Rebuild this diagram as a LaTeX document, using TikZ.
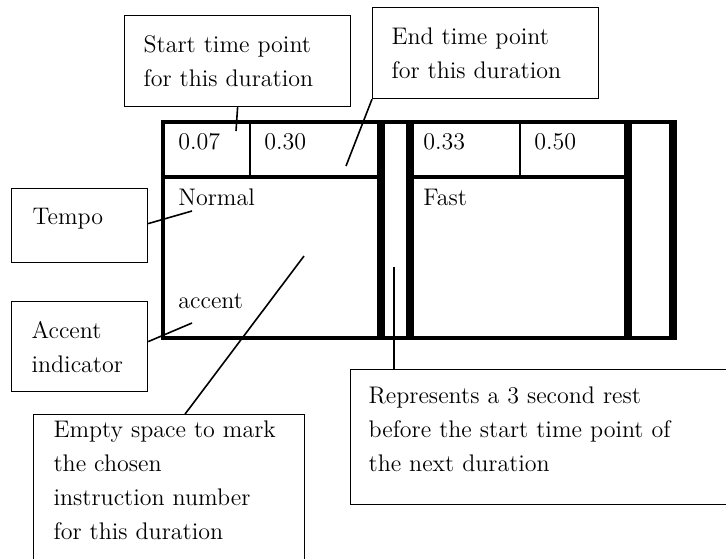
\documentclass[tikz,border=0pt]{standalone}
\usetikzlibrary{positioning}

\tikzset{
  callout/.style={draw, line width=0.6pt, anchor=north west, align=left, inner ysep=3pt,
    font=\fontsize{12}{17}\selectfont},
  cell/.style={anchor=base west, inner sep=0pt, font=\fontsize{12}{17}\selectfont},
  frame/.style={line width=2pt},
  bar/.style={line width=4pt},
  divider/.style={line width=1pt},
  pointer/.style={line width=0.8pt}
}

\begin{document}
\begin{tikzpicture}[x=0.5pt, y=-0.5pt]
    \useasboundingbox (0,0) rectangle (726,558);

    % the two durations and the rest between them
    \draw[frame] (162.5,122) rectangle (673,338);
    \foreach \x in {381,410,628,673}
        \draw[bar] (\x,120) -- (\x,340);
    \draw[frame] (162.5,177) -- (381,177);
    \draw[frame] (410,177) -- (628,177);
    \draw[divider] (250,122) -- (250,177);
    \draw[divider] (520,122) -- (520,177);

    \node[cell] (start1) at (178,149) {0.07};
    \node[cell] (end1) at (264,149) {0.30};
    \node[cell] (start2) at (423,149) {0.33};
    \node[cell] (end2) at (534,149) {0.50};
    \node[cell] (tempo1) at (178,205) {Normal};
    \node[cell] (tempo2) at (423,205) {Fast};
    \node[cell] (accent1) at (178,308) {accent};

    % explanations
    \node[callout, inner xsep=9.5pt, text width=94pt, minimum height=45.5pt] (startnote) at (124,15)
        {Start time point\\for this duration};
    \node[callout, inner xsep=9.5pt, text width=94pt, minimum height=45.5pt] (endnote) at (372,7)
        {End time point\\for this duration};
    \node[callout, inner xsep=10.5pt, text width=47pt, text height=15pt, text depth=16pt] (temponote) at (11,188)
        {Tempo};
    \node[callout, inner xsep=10pt, text width=48pt, minimum height=45pt] (accentnote) at (11,301)
        {Accent\\indicator};
    \node[callout, inner xsep=10pt, inner ysep=3pt, text width=115.5pt, text depth=68pt] (emptynote) at (33,414)
        {Empty space to mark\\the chosen\\instruction number\\for this duration};
    \node[callout, inner xsep=9pt, inner ysep=8.7pt, text width=200pt, text depth=41.8pt] (restnote) at (350,369)
        {Represents a 3 second rest\\before the start time point of\\the next duration};

    \coordinate (startpt) at (236,131);
    \coordinate (endpt) at (346,166);
    \coordinate (tempopt) at (192,211);
    \coordinate (accentpt) at (192,323);
    \coordinate (emptypt) at (304,256);
    \coordinate (restpt) at (394,267);

    \draw[pointer] (startnote.south) -- (startpt);
    \draw[pointer] (endnote.south west) -- (endpt);
    \draw[pointer] ([yshift=1pt]temponote.east) -- (tempopt);
    \draw[pointer] ([yshift=2.5pt]accentnote.east) -- (accentpt);
    \draw[pointer] ([xshift=8pt]emptynote.north) -- (emptypt);
    \draw[pointer] ([xshift=22pt]restnote.north west) -- (restpt);

\end{tikzpicture}
\end{document}
